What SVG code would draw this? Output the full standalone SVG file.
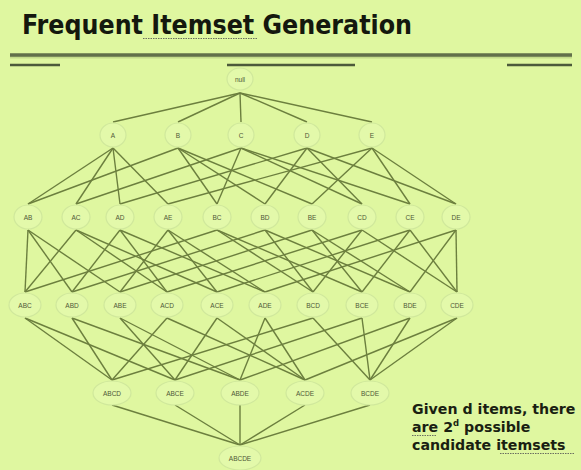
<svg xmlns="http://www.w3.org/2000/svg" width="581" height="470" viewBox="0 0 581 470">
<style>
.bg{fill:#dff7a0}
.title{font-family:"DejaVu Sans Condensed","DejaVu Sans",Verdana,sans-serif;font-weight:bold;font-size:27px;fill:#14180e}
.note{font-family:"DejaVu Sans",Verdana,sans-serif;font-weight:bold;font-size:14.2px;fill:#1a1f12}
.node ellipse{fill:#e3f9aa;stroke:#d0e89c;stroke-width:1.2}
.node text{font-family:"Liberation Sans",Arial,sans-serif;font-size:6.5px;fill:#4f5838;text-anchor:middle}
#connectors line{stroke:#6c7f3e;stroke-width:1.4}
.squig{stroke:#6a6f60;stroke-width:1.2;stroke-dasharray:1.5 1;fill:none}
</style>
<rect class="bg" x="0" y="0" width="581" height="470"/>
<g id="title">
<text class="title" x="22" y="34" textLength="390" lengthAdjust="spacingAndGlyphs">Frequent Itemset Generation</text>
<line class="squig" x1="143" y1="38.5" x2="257" y2="38.5"/>
</g>
<g id="rules">
<line x1="10" y1="57" x2="572" y2="57" stroke="#c4dc8a" stroke-width="3"/>
<line x1="10" y1="55" x2="572" y2="55" stroke="#62704a" stroke-width="3.5"/>
<line x1="10" y1="65" x2="60" y2="65" stroke="#4c5a3a" stroke-width="2.5"/>
<line x1="227" y1="65" x2="355" y2="65" stroke="#4c5a3a" stroke-width="2.5"/>
<line x1="507" y1="65" x2="572" y2="65" stroke="#4c5a3a" stroke-width="2.5"/>
</g>
<g id="connectors">
<line x1="240" y1="93" x2="113" y2="122"/><line x1="240" y1="93" x2="178" y2="122"/><line x1="240" y1="93" x2="241" y2="122"/><line x1="240" y1="93" x2="307" y2="122"/><line x1="240" y1="93" x2="372" y2="122"/>
<line x1="113" y1="148" x2="28" y2="204"/><line x1="113" y1="148" x2="76" y2="204"/><line x1="113" y1="148" x2="120" y2="204"/><line x1="113" y1="148" x2="168" y2="204"/>
<line x1="178" y1="148" x2="28" y2="204"/><line x1="178" y1="148" x2="217" y2="204"/><line x1="178" y1="148" x2="265" y2="204"/><line x1="178" y1="148" x2="312" y2="204"/>
<line x1="241" y1="148" x2="76" y2="204"/><line x1="241" y1="148" x2="217" y2="204"/><line x1="241" y1="148" x2="362" y2="204"/><line x1="241" y1="148" x2="410" y2="204"/>
<line x1="307" y1="148" x2="120" y2="204"/><line x1="307" y1="148" x2="265" y2="204"/><line x1="307" y1="148" x2="362" y2="204"/><line x1="307" y1="148" x2="456" y2="204"/>
<line x1="372" y1="148" x2="168" y2="204"/><line x1="372" y1="148" x2="312" y2="204"/><line x1="372" y1="148" x2="410" y2="204"/><line x1="372" y1="148" x2="456" y2="204"/>
<line x1="28" y1="230" x2="25" y2="292"/><line x1="28" y1="230" x2="72" y2="292"/><line x1="28" y1="230" x2="120" y2="292"/>
<line x1="76" y1="230" x2="25" y2="292"/><line x1="76" y1="230" x2="167" y2="292"/><line x1="76" y1="230" x2="217" y2="292"/>
<line x1="120" y1="230" x2="72" y2="292"/><line x1="120" y1="230" x2="167" y2="292"/><line x1="120" y1="230" x2="265" y2="292"/>
<line x1="168" y1="230" x2="120" y2="292"/><line x1="168" y1="230" x2="217" y2="292"/><line x1="168" y1="230" x2="265" y2="292"/>
<line x1="217" y1="230" x2="25" y2="292"/><line x1="217" y1="230" x2="313" y2="292"/><line x1="217" y1="230" x2="362" y2="292"/>
<line x1="265" y1="230" x2="72" y2="292"/><line x1="265" y1="230" x2="313" y2="292"/><line x1="265" y1="230" x2="410" y2="292"/>
<line x1="312" y1="230" x2="120" y2="292"/><line x1="312" y1="230" x2="362" y2="292"/><line x1="312" y1="230" x2="410" y2="292"/>
<line x1="362" y1="230" x2="167" y2="292"/><line x1="362" y1="230" x2="313" y2="292"/><line x1="362" y1="230" x2="457" y2="292"/>
<line x1="410" y1="230" x2="217" y2="292"/><line x1="410" y1="230" x2="362" y2="292"/><line x1="410" y1="230" x2="457" y2="292"/>
<line x1="456" y1="230" x2="265" y2="292"/><line x1="456" y1="230" x2="410" y2="292"/><line x1="456" y1="230" x2="457" y2="292"/>
<line x1="25" y1="318" x2="112" y2="380"/><line x1="25" y1="318" x2="175" y2="380"/>
<line x1="72" y1="318" x2="112" y2="380"/><line x1="72" y1="318" x2="240" y2="380"/>
<line x1="120" y1="318" x2="175" y2="380"/><line x1="120" y1="318" x2="240" y2="380"/>
<line x1="167" y1="318" x2="112" y2="380"/><line x1="167" y1="318" x2="305" y2="380"/>
<line x1="217" y1="318" x2="175" y2="380"/><line x1="217" y1="318" x2="305" y2="380"/>
<line x1="265" y1="318" x2="240" y2="380"/><line x1="265" y1="318" x2="305" y2="380"/>
<line x1="313" y1="318" x2="112" y2="380"/><line x1="313" y1="318" x2="370" y2="380"/>
<line x1="362" y1="318" x2="175" y2="380"/><line x1="362" y1="318" x2="370" y2="380"/>
<line x1="410" y1="318" x2="240" y2="380"/><line x1="410" y1="318" x2="370" y2="380"/>
<line x1="457" y1="318" x2="305" y2="380"/><line x1="457" y1="318" x2="370" y2="380"/>
<line x1="112" y1="405" x2="240" y2="445"/><line x1="175" y1="405" x2="240" y2="445"/><line x1="240" y1="405" x2="240" y2="445"/><line x1="305" y1="405" x2="240" y2="445"/><line x1="370" y1="405" x2="240" y2="445"/>
</g>
<g id="n-null" class="node"><ellipse cx="240" cy="79" rx="13" ry="11"/><text x="240" y="81.5">null</text></g>
<g id="n-A" class="node"><ellipse cx="113" cy="135" rx="13" ry="12"/><text x="113" y="137.5">A</text></g>
<g id="n-B" class="node"><ellipse cx="178" cy="135" rx="13" ry="12"/><text x="178" y="137.5">B</text></g>
<g id="n-C" class="node"><ellipse cx="241" cy="135" rx="13" ry="12"/><text x="241" y="137.5">C</text></g>
<g id="n-D" class="node"><ellipse cx="307" cy="135" rx="13" ry="12"/><text x="307" y="137.5">D</text></g>
<g id="n-E" class="node"><ellipse cx="372" cy="135" rx="13" ry="12"/><text x="372" y="137.5">E</text></g>
<g id="n-AB" class="node"><ellipse cx="28" cy="217" rx="14" ry="12"/><text x="28" y="219.5">AB</text></g>
<g id="n-AC" class="node"><ellipse cx="76" cy="217" rx="14" ry="12"/><text x="76" y="219.5">AC</text></g>
<g id="n-AD" class="node"><ellipse cx="120" cy="217" rx="14" ry="12"/><text x="120" y="219.5">AD</text></g>
<g id="n-AE" class="node"><ellipse cx="168" cy="217" rx="14" ry="12"/><text x="168" y="219.5">AE</text></g>
<g id="n-BC" class="node"><ellipse cx="217" cy="217" rx="14" ry="12"/><text x="217" y="219.5">BC</text></g>
<g id="n-BD" class="node"><ellipse cx="265" cy="217" rx="14" ry="12"/><text x="265" y="219.5">BD</text></g>
<g id="n-BE" class="node"><ellipse cx="312" cy="217" rx="14" ry="12"/><text x="312" y="219.5">BE</text></g>
<g id="n-CD" class="node"><ellipse cx="362" cy="217" rx="14" ry="12"/><text x="362" y="219.5">CD</text></g>
<g id="n-CE" class="node"><ellipse cx="410" cy="217" rx="14" ry="12"/><text x="410" y="219.5">CE</text></g>
<g id="n-DE" class="node"><ellipse cx="456" cy="217" rx="14" ry="12"/><text x="456" y="219.5">DE</text></g>
<g id="n-ABC" class="node"><ellipse cx="25" cy="305" rx="16" ry="12"/><text x="25" y="307.5">ABC</text></g>
<g id="n-ABD" class="node"><ellipse cx="72" cy="305" rx="16" ry="12"/><text x="72" y="307.5">ABD</text></g>
<g id="n-ABE" class="node"><ellipse cx="120" cy="305" rx="16" ry="12"/><text x="120" y="307.5">ABE</text></g>
<g id="n-ACD" class="node"><ellipse cx="167" cy="305" rx="16" ry="12"/><text x="167" y="307.5">ACD</text></g>
<g id="n-ACE" class="node"><ellipse cx="217" cy="305" rx="16" ry="12"/><text x="217" y="307.5">ACE</text></g>
<g id="n-ADE" class="node"><ellipse cx="265" cy="305" rx="16" ry="12"/><text x="265" y="307.5">ADE</text></g>
<g id="n-BCD" class="node"><ellipse cx="313" cy="305" rx="16" ry="12"/><text x="313" y="307.5">BCD</text></g>
<g id="n-BCE" class="node"><ellipse cx="362" cy="305" rx="16" ry="12"/><text x="362" y="307.5">BCE</text></g>
<g id="n-BDE" class="node"><ellipse cx="410" cy="305" rx="16" ry="12"/><text x="410" y="307.5">BDE</text></g>
<g id="n-CDE" class="node"><ellipse cx="457" cy="305" rx="16" ry="12"/><text x="457" y="307.5">CDE</text></g>
<g id="n-ABCD" class="node"><ellipse cx="112" cy="393" rx="19" ry="12"/><text x="112" y="395.5">ABCD</text></g>
<g id="n-ABCE" class="node"><ellipse cx="175" cy="393" rx="19" ry="12"/><text x="175" y="395.5">ABCE</text></g>
<g id="n-ABDE" class="node"><ellipse cx="240" cy="393" rx="19" ry="12"/><text x="240" y="395.5">ABDE</text></g>
<g id="n-ACDE" class="node"><ellipse cx="305" cy="393" rx="19" ry="12"/><text x="305" y="395.5">ACDE</text></g>
<g id="n-BCDE" class="node"><ellipse cx="370" cy="393" rx="19" ry="12"/><text x="370" y="395.5">BCDE</text></g>
<g id="n-ABCDE" class="node"><ellipse cx="240" cy="458" rx="21" ry="12"/><text x="240" y="460.5">ABCDE</text></g>
<g id="note">
<text class="note" x="412" y="414">Given d items, there</text>
<text class="note" x="412" y="432">are 2<tspan font-size="8.5" dy="-6">d</tspan><tspan dy="6"> possible</tspan></text>
<text class="note" x="412" y="450">candidate itemsets</text>
<line class="squig" x1="412" y1="435.5" x2="437" y2="435.5"/>
<line class="squig" x1="500" y1="453.5" x2="575" y2="453.5"/>
</g>
</svg>
